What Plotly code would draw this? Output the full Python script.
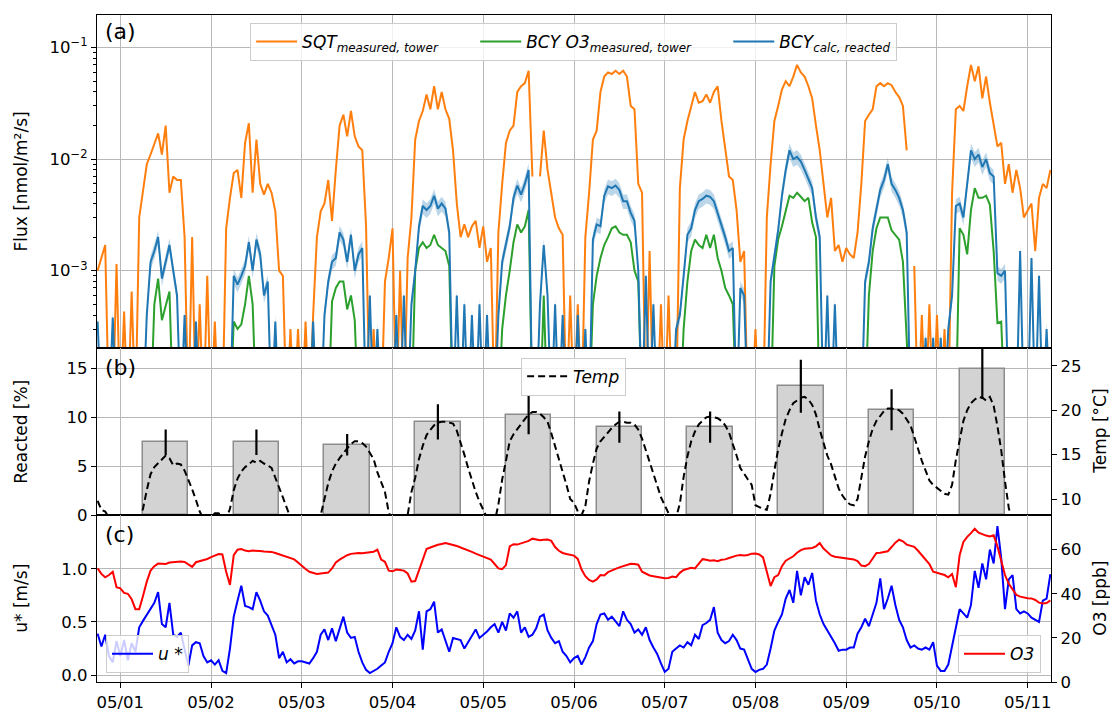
import pandas as pd
import plotly.graph_objects as go

# ---------------- data (hourly, 2019-04-30 18:00 .. 2019-05-11 06:00) ----------------
times = pd.date_range("2019-04-30 18:00", periods=253, freq="h")

# SQT measured flux at tower, in 1e-3 nmol/m2/s (0.05 = below plotted range)
sqt_e3 = [
    1.0, 1.3, 1.7, 0.05, 0.05, 1.15,
    0.05, 0.43, 0.05, 0.65, 0.05, 3.0, 5.3, 9.0, 11, 14, 17, 11, 20, 5.0, 7.0, 6.5, 6.5, 2.0, 0.05, 2.0, 0.05, 0.5, 0.05, 0.9,
    0.05, 0.35, 0.05, 0.05, 2.4, 4.5, 7.5, 8.0, 4.5, 14, 21, 5.0, 15, 6.0, 4.8, 6.0, 5.0, 3.4, 1.0, 0.9, 0.05, 0.3, 0.05, 0.3,
    0.05, 0.35, 0.05, 0.4, 2.0, 3.4, 4.0, 6.5, 2.8, 8.0, 20, 25, 16, 27, 16, 13, 12, 2.5, 0.05, 0.3, 0.05, 0.05, 0.8, 1.3,
    2.4, 0.05, 1.0, 0.05, 1.3, 3.0, 15, 22, 27, 38, 28, 45, 28, 40, 28, 23, 12, 4.0, 2.0, 2.6, 2.0, 2.5, 2.8, 1.6,
    2.5, 1.2, 1.6, 0.05, 2.2, 6.0, 14, 18, 20, 40, 45, 48, 62, 7.0, None, 7.0, 18, 8.0, 5.0, 3.0, 2.4, 2.1, 0.05, 0.6,
    0.05, 0.5, 0.05, 2.0, 5.0, 15, 18, 40, 55, 60, 58, 62, 58, 62, 55, 30, 28, 6.0, 5.0, 0.05, 1.5, 0.05, 0.05, 0.5,
    0.05, 0.6, 0.05, 0.05, 5.5, 15, 22, 30, 40, 32, 33, 38, 32, 40, 45, 22, 13, 7.0, 6.5, 3.5, 1.2, 1.5, 0.05, 0.05,
    0.3, 0.05, 0.05, 3.0, 9.0, 22, 30, 42, 50, 45, 55, 70, 60, 55, 45, 35, 20, 12, 6.0, 3.0, 4.5, 1.5, 1.7, 1.2,
    1.6, 1.4, 1.3, 2.2, 6.0, 22, 25, 28, 45, 48, 45, 48, 46, 40, 36, 30, 12, None, 1.1, 0.05, 0.4, 0.05, 0.5, 0.05,
    0.4, 0.05, 0.3, 0.05, 5.0, 28, 30, 27, 45, 70, 50, 68, 35, 55, 32, 20, 13, 14, 6.0, 9.0, 5.0, 8.0, 5.5, 3.0,
    3.5, 4.0, 1.5, 4.5, 6.0, 5.5, 8.0,
]

# BCY O3 measured at tower, 1e-3 nmol/m2/s
bcy_o3_e3 = [
    0.05, 0.05, 0.05, 0.05, 0.05, 0.05,
    0.05, 0.05, 0.05, 0.05, 0.05, 0.05, 0.05, 0.05, 0.05, 0.5, 0.85, 0.36, 0.5, 0.65, 0.05, 0.05, 0.05, 0.05, 0.05, 0.05, 0.05, 0.05, 0.05, 0.05,
    0.05, 0.05, 0.05, 0.05, 0.05, 0.05, 0.35, 0.3, 0.33, 0.5, 0.9, 0.5, 0.05, 0.05, 0.05, 0.05, 0.05, 0.05, 0.05, 0.05, 0.05, 0.05, 0.05, 0.05,
    0.05, 0.05, 0.05, 0.05, 0.05, 0.05, 0.05, 0.05, 0.53, 0.7, 0.8, 0.8, 0.45, 0.6, 0.36, 0.05, 0.05, 0.05, 0.05, 0.05, 0.05, 0.05, 0.05, 0.05,
    0.05, 0.05, 0.05, 0.05, 0.05, 0.05, 1.0, 1.6, 1.8, 1.6, 1.7, 2.1, 1.7, 1.6, 1.5, 1.1, 0.05, 0.05, 0.05, 0.05, 0.05, 0.05, 0.05, 0.05,
    0.05, 0.05, 0.05, 0.05, 0.05, 0.3, 0.6, 1.0, 1.8, 2.6, 2.2, 2.5, 3.5, 0.05, 0.05, 0.05, 0.6, 0.05, 0.05, 0.05, 0.05, 0.05, 0.05, 0.05,
    0.05, 0.05, 0.05, 0.05, 0.05, 0.5, 0.9, 1.3, 1.7, 2.0, 2.4, 2.5, 2.2, 2.1, 2.1, 1.8, 1.0, 0.8, 0.05, 0.05, 0.05, 0.05, 0.05, 0.05,
    0.05, 0.05, 0.05, 0.05, 0.05, 0.3, 0.8, 1.5, 1.9, 1.7, 1.6, 2.1, 1.6, 2.1, 1.3, 1.0, 0.7, 0.6, 0.5, 0.05, 0.05, 0.05, 0.05, 0.05,
    0.05, 0.05, 0.05, 0.05, 0.05, 1.1, 1.9, 2.5, 3.5, 4.7, 4.5, 5.0, 4.6, 4.2, 4.5, 2.7, 2.0, 0.05, 0.05, 0.05, 0.05, 0.05, 0.05, 0.05,
    0.05, 0.05, 0.05, 0.05, 0.05, 0.05, 0.6, 1.5, 2.4, 3.0, 3.0, 3.0, 2.3, 2.1, 1.9, 1.2, 0.3, 0.05, 0.05, 0.05, 0.05, 0.05, 0.05, 0.05,
    0.05, 0.05, 0.05, 0.05, 0.05, 0.05, 2.4, 2.1, 1.4, 3.5, 5.5, 4.5, 4.5, 4.7, 3.9, 1.5, 0.34, 0.35, 0.05, 0.05, 0.05, 0.05, 0.05, 0.05,
    0.05, 0.05, 0.05, 0.05, 0.05, 0.05, 0.05,
]

# BCY calculated, reacted, 1e-3 nmol/m2/s
bcy_calc_e3 = [
    0.35, 0.05, 0.05, 0.05, 0.38, 0.05,
    0.05, 0.05, 0.05, 0.05, 0.05, 0.05, 0.05, 0.4, 1.2, 1.5, 2.0, 0.85, 1.2, 1.7, 1.0, 0.6, 0.05, 0.4, 0.05, 0.05, 0.35, 0.05, 0.05, 0.05,
    0.05, 0.05, 0.05, 0.05, 0.05, 0.05, 0.9, 0.75, 0.9, 1.1, 1.8, 1.0, 1.9, 1.4, 0.6, 0.8, 0.05, 0.35, 0.05, 0.05, 0.05, 0.05, 0.05, 0.05,
    0.05, 0.05, 0.05, 0.35, 0.05, 0.05, 0.4, 0.8, 1.2, 1.3, 2.2, 1.9, 1.2, 2.1, 1.0, 1.4, 1.6, 0.05, 0.6, 0.05, 0.3, 0.05, 0.05, 0.05,
    0.05, 0.4, 0.05, 0.6, 0.05, 0.5, 1.0, 2.5, 3.8, 3.5, 3.8, 4.7, 3.6, 4.0, 3.6, 2.2, 0.05, 0.6, 0.05, 0.5, 0.05, 0.4, 0.05, 0.5,
    0.05, 0.4, 0.05, 0.05, 0.4, 1.2, 1.7, 2.5, 4.5, 5.8, 4.8, 6.0, 8.0, 0.05, 0.05, 0.5, 1.7, 0.6, 0.05, 0.5, 0.05, 0.4, 0.05, 0.05,
    0.05, 0.4, 0.05, 0.3, 0.05, 1.9, 2.6, 2.5, 4.7, 5.7, 5.5, 5.8, 5.3, 4.2, 4.2, 3.3, 2.8, 1.0, 0.05, 0.9, 0.05, 0.5, 0.05, 0.05,
    0.05, 0.05, 0.05, 0.3, 0.4, 0.9, 2.1, 2.4, 3.5, 4.2, 4.4, 4.7, 4.6, 4.2, 3.3, 2.6, 2.0, 1.5, 1.6, 0.05, 0.7, 0.6, 0.05, 0.05,
    0.05, 0.05, 0.05, 0.05, 0.8, 1.4, 2.3, 4.7, 8.0, 12, 10, 10.5, 9.5, 8.0, 6.5, 5.5, 3.0, 2.0, 0.05, 0.6, 0.05, 0.5, 0.05, 0.05,
    0.05, 0.05, 0.05, 0.05, 0.05, 0.8, 1.2, 2.4, 3.5, 5.3, 6.5, 9.0, 6.0, 5.3, 4.5, 3.5, 2.2, 0.05, 0.05, 0.05, 0.05, 0.25, 0.05, 0.25,
    0.05, 0.25, 0.05, 0.3, 0.6, 3.8, 4.0, 3.0, 6.0, 12, 10, 11, 8.5, 10, 7.5, 7.0, 0.95, 0.9, 1.0, 0.05, 0.05, 0.05, 1.5, 0.05,
    0.05, 1.3, 0.05, 0.9, 0.05, 0.3, 0.05,
]
bcy_calc_rel_unc = 0.15   # relative width of the shaded uncertainty band

# daily reacted fraction (bars at noon) and its error
bar_days = ["05/01", "05/02", "05/03", "05/04", "05/05", "05/06", "05/07", "05/08", "05/09", "05/10"]
reacted_pct = [7.47, 7.47, 7.23, 9.57, 10.3, 9.03, 9.03, 13.2, 10.8, 15.0]
reacted_err = [1.3, 1.3, 1.1, 1.8, 2.0, 1.6, 1.6, 2.7, 2.1, 3.1]

# temperature (deg C)
temp_c = [
    9.8, 8.8, 8.6, 7.9, 7.6, 7.4,
    7.3, 7.2, 7.1, 7.0, 7.0, 7.6, 8.9, 11.0, 12.8, 13.6, 14.0, 14.5, 14.9, 14.6, 13.8, 14.0, 13.9, 13.2, 12.2, 11.1, 9.9, 8.6, 7.8, 7.6,
    7.9, 8.4, 8.4, 7.9, 7.8, 8.9, 11.0, 12.3, 13.1, 13.6, 13.9, 14.3, 14.1, 14.3, 14.0, 13.8, 13.5, 12.5, 11.3, 10.2, 9.1, 7.9, 7.5, 7.3,
    7.2, 7.0, 6.9, 6.8, 7.3, 8.2, 10.0, 11.8, 13.1, 14.0, 14.6, 15.2, 15.7, 16.2, 16.5, 16.5, 16.3, 15.9, 15.2, 14.5, 13.0, 11.8, 10.8, 8.5,
    7.5, 7.3, 7.1, 7.0, 8.2, 10.8, 12.4, 14.5, 16.0, 17.2, 17.8, 18.3, 18.6, 18.7, 18.7, 18.6, 18.5, 17.7, 16.4, 15.0, 13.5, 12.0, 10.8, 9.7,
    8.8, 7.9, 7.4, 7.4, 9.4, 12.2, 14.3, 16.5, 17.3, 17.9, 18.5, 19.0, 19.5, 19.8, 19.8, 19.6, 19.2, 18.7, 17.4, 16.0, 14.6, 13.2, 11.6, 10.0,
    9.6, 8.6, 8.2, 9.2, 12.0, 14.0, 15.7, 16.5, 17.0, 17.6, 18.0, 18.4, 18.7, 18.7, 18.6, 18.6, 18.4, 17.8, 16.8, 15.5, 14.2, 12.9, 11.5, 10.2,
    9.3, 8.4, 8.0, 7.9, 9.5, 12.5, 14.8, 16.5, 17.6, 18.4, 18.8, 19.2, 19.3, 19.2, 19.1, 18.8, 18.3, 17.5, 16.3, 14.9, 13.5, 12.8, 12.2, 11.6,
    9.3, 9.1, 8.9, 8.8, 10.6, 13.2, 15.6, 17.4, 19.0, 20.0, 20.8, 21.1, 21.4, 21.5, 21.2, 20.6, 19.5, 17.8, 16.2, 14.9, 13.9, 12.6, 11.2, 10.4,
    9.8, 9.4, 9.3, 10.0, 12.6, 14.8, 16.5, 17.9, 18.8, 19.4, 19.9, 20.2, 20.2, 20.1, 20.0, 19.6, 19.0, 18.3, 17.0, 15.6, 14.3, 13.2, 12.1, 11.6,
    11.3, 11.0, 10.6, 10.5, 11.6, 14.4, 16.8, 18.8, 20.0, 20.8, 21.2, 21.5, 21.4, 21.1, 21.5, 20.5, 18.2, 15.5, 12.0, 9.0, 7.4, 7.0, 6.8, 6.6,
    6.5, 6.4, 6.3, 6.2, 6.1, 6.0, 6.0,
]

# friction velocity u* (m/s)
ustar = [
    0.39, 0.27, 0.38, 0.18, 0.12, 0.32,
    0.18, 0.33, 0.14, 0.30, 0.22, 0.45, 0.51, 0.57, 0.63, 0.68, 0.78, 0.48, 0.45, 0.68, 0.38, 0.36, 0.40, 0.25, 0.09, 0.28, 0.31, 0.30, 0.18, 0.12,
    0.14, 0.10, 0.14, 0.04, 0.02, 0.25, 0.55, 0.70, 0.84, 0.65, 0.64, 0.62, 0.78, 0.70, 0.60, 0.56, 0.46, 0.38, 0.16, 0.22, 0.12, 0.15, 0.11, 0.13,
    0.13, 0.12, 0.11, 0.16, 0.22, 0.38, 0.43, 0.33, 0.44, 0.32, 0.44, 0.55, 0.40, 0.35, 0.36, 0.22, 0.12, 0.05, 0.02, 0.04, 0.06, 0.09, 0.12, 0.22,
    0.30, 0.45, 0.36, 0.33, 0.38, 0.34, 0.42, 0.60, 0.24, 0.60, 0.62, 0.69, 0.40, 0.43, 0.33, 0.22, 0.35, 0.34, 0.33, 0.25, 0.31, 0.38, 0.43, 0.35,
    0.38, 0.41, 0.45, 0.48, 0.40, 0.50, 0.42, 0.58, 0.54, 0.60, 0.40, 0.45, 0.36, 0.38, 0.44, 0.55, 0.57, 0.42, 0.35, 0.30, 0.32, 0.22, 0.18, 0.12,
    0.16, 0.18, 0.10, 0.17, 0.26, 0.32, 0.48, 0.57, 0.58, 0.52, 0.55, 0.50, 0.46, 0.60, 0.52, 0.48, 0.40, 0.43, 0.38, 0.45, 0.33, 0.26, 0.20, 0.11,
    0.03, 0.06, 0.22, 0.25, 0.28, 0.26, 0.31, 0.28, 0.38, 0.34, 0.47, 0.49, 0.52, 0.64, 0.40, 0.33, 0.30, 0.32, 0.38, 0.33, 0.25, 0.24, 0.15, 0.06,
    0.03, 0.05, 0.06, 0.10, 0.25, 0.42, 0.50, 0.57, 0.72, 0.80, 0.68, 0.98, 0.75, 0.92, 0.85, 0.96, 0.70, 0.57, 0.48, 0.42, 0.37, 0.30, 0.23, 0.24,
    0.24, 0.26, 0.26, 0.39, 0.45, 0.53, 0.46, 0.57, 0.68, 0.91, 0.62, 0.72, 0.84, 0.66, 0.52, 0.45, 0.33, 0.26, 0.28, 0.25, 0.24, 0.26, 0.24, 0.31,
    0.09, 0.04, 0.04, 0.10, 0.28, 0.44, 0.62, 0.58, 0.54, 0.66, 0.98, 0.82, 1.05, 0.90, 1.18, 1.05, 1.40, 1.10, 0.62, 0.90, 0.94, 0.62, 0.58, 0.60,
    0.58, 0.54, 0.52, 0.50, 0.70, 0.72, 0.95,
]

# ozone (ppb)
o3_ppb = [
    51.5, 49.0, 47.5, 48.5, 50.0, 43.0,
    42.5, 40.4, 40.0, 37.5, 33.0, 33.0, 39.0, 45.5, 50.5, 52.5, 53.7, 53.5, 53.5, 54.2, 54.4, 54.4, 54.6, 54.4, 53.4, 52.2, 54.3, 54.8, 55.1, 55.8,
    56.6, 57.3, 58.0, 57.8, 50.0, 44.0, 57.5, 60.0, 60.3, 59.6, 59.3, 59.6, 59.6, 59.4, 59.2, 59.2, 59.0, 58.5, 57.9, 57.4, 56.8, 56.2, 55.6, 54.2,
    52.5, 51.2, 50.0, 49.4, 49.0, 49.2, 49.3, 49.6, 51.5, 54.2, 55.5, 56.6, 57.5, 58.1, 58.4, 58.5, 58.4, 58.6, 58.8, 59.1, 60.0, 55.5, 54.5, 50.5,
    50.2, 51.0, 50.8, 50.5, 49.2, 45.5, 45.8, 50.5, 56.0, 60.3, 61.0, 61.7, 62.2, 62.6, 63.0, 62.6, 62.2, 61.7, 61.0, 60.4, 59.6, 59.0, 58.2, 57.6,
    57.0, 56.4, 55.5, 53.5, 51.5, 51.2, 53.0, 61.5, 62.5, 62.3, 62.8, 63.3, 64.0, 65.0, 64.6, 64.3, 64.5, 64.6, 64.0, 61.2, 59.5, 58.5, 58.0, 57.6,
    57.3, 55.8, 51.0, 48.0, 46.3, 45.5, 46.5, 48.5, 48.3, 49.8, 50.7, 51.3, 52.0, 52.5, 53.0, 53.6, 53.5, 53.2, 50.0, 49.0, 48.3, 48.0, 47.7, 47.3,
    47.0, 47.2, 47.8, 47.5, 49.5, 50.8, 51.3, 51.8, 51.5, 53.5, 55.7, 55.4, 55.0, 55.2, 54.8, 55.4, 55.6, 56.2, 56.8, 57.3, 57.6, 57.4, 57.6, 58.2,
    58.3, 57.8, 56.5, 50.5, 43.5, 47.5, 48.5, 52.5, 55.0, 56.0, 57.0, 58.6, 59.8, 60.4, 60.6, 60.8, 61.5, 63.0, 60.5, 59.0, 57.4, 56.8, 56.6, 56.4,
    56.2, 55.8, 55.6, 54.8, 52.8, 52.5, 53.5, 56.0, 58.5, 58.6, 59.0, 59.3, 61.2, 63.2, 64.5, 63.8, 62.3, 61.8, 61.3, 59.5, 57.5, 55.8, 53.5, 50.0,
    49.5, 49.0, 48.5, 47.5, 49.0, 43.0, 57.5, 63.5, 65.8, 67.5, 69.5, 67.7, 67.0, 66.4, 66.0, 66.5, 61.5, 54.5, 48.5, 44.5, 41.8, 39.5, 38.7, 38.3,
    38.0, 37.9, 37.2, 36.0, 35.6, 35.8, 37.0,
]

for s in (sqt_e3, bcy_o3_e3, bcy_calc_e3, temp_c, ustar, o3_ppb):
    assert len(s) == len(times), len(s)

# ---------------- helpers ----------------
def e3(vals):
    return [None if v is None else v * 1e-3 for v in vals]

sqt = e3(sqt_e3)
bcy_o3 = e3(bcy_o3_e3)
bcy_calc = e3(bcy_calc_e3)
bcy_hi = [v * (1 + bcy_calc_rel_unc) for v in bcy_calc]
bcy_lo = [v * (1 - bcy_calc_rel_unc) for v in bcy_calc]
bar_times = pd.to_datetime(["2019-" + d.replace("/", "-") + " 12:00" for d in bar_days])

W, H = 1110, 724
ML, MR, MT, MB = 97, 59, 15, 28
PH = H - MT - MB


def py(ypx):
    return (H - MB - ypx) / PH


def px(xpx):
    return (xpx - ML) / (W - ML - MR)


FONT = "DejaVu Sans"
ORANGE, GREEN, BLUE = "#ff7f0e", "#2ca02c", "#1f77b4"
PAD = "\u00a0" * 6

fig = go.Figure()

# ---- panel (a)
fig.add_trace(go.Scatter(x=times, y=sqt, mode="lines", line=dict(color=ORANGE, width=2),
                         name="<i>SQT</i><sub><i>measured, tower</i></sub>" + PAD, legend="legend",
                         xaxis="x", yaxis="y"))
fig.add_trace(go.Scatter(x=times, y=bcy_o3, mode="lines", line=dict(color=GREEN, width=2),
                         name="<i>BCY O3</i><sub><i>measured, tower</i></sub>" + PAD, legend="legend",
                         xaxis="x", yaxis="y"))
fig.add_trace(go.Scatter(x=times, y=bcy_lo, mode="lines", line=dict(width=0, color=BLUE),
                         showlegend=False, xaxis="x", yaxis="y", hoverinfo="skip"))
fig.add_trace(go.Scatter(x=times, y=bcy_hi, mode="lines", line=dict(width=0, color=BLUE),
                         fill="tonexty", fillcolor="rgba(31,119,180,0.3)",
                         showlegend=False, xaxis="x", yaxis="y", hoverinfo="skip"))
fig.add_trace(go.Scatter(x=times, y=bcy_calc, mode="lines", line=dict(color=BLUE, width=2),
                         name="<i>BCY</i><sub><i>calc, reacted</i></sub>", legend="legend",
                         xaxis="x", yaxis="y"))

# ---- panel (b)
fig.add_trace(go.Bar(x=bar_times, y=reacted_pct, width=12 * 3600 * 1000,
                     marker=dict(color="#d3d3d3", line=dict(color="#8c8c8c", width=1.5)),
                     error_y=dict(type="data", array=reacted_err, color="black", thickness=2.2, width=0),
                     showlegend=False, xaxis="x2", yaxis="y2"))
fig.add_trace(go.Scatter(x=times, y=temp_c, mode="lines",
                         line=dict(color="black", width=2, dash="7px,4px"),
                         name="<i>Temp</i>", legend="legend2", xaxis="x2", yaxis="y3"))

# ---- panel (c)
fig.add_trace(go.Scatter(x=times, y=ustar, mode="lines", line=dict(color="#0000ff", width=2),
                         name="<i>u</i> *", legend="legend3", xaxis="x3", yaxis="y4"))
fig.add_trace(go.Scatter(x=times, y=o3_ppb, mode="lines", line=dict(color="#ff0000", width=2),
                         name="<i>O3</i>", legend="legend4", xaxis="x3", yaxis="y5"))

axis_common = dict(showline=True, linecolor="black", linewidth=1.2, mirror=True,
                   ticks="outside", ticklen=5, tickwidth=1.2, tickcolor="black",
                   gridcolor="#b8b8b8", gridwidth=1, zeroline=False,
                   tickfont=dict(family=FONT, size=16.5, color="black"))
xr = ["2019-04-30 17:50", "2019-05-11 06:10"]
x_common = dict(axis_common, type="date", range=xr, dtick=86400000, tick0="2019-05-01",
                tickformat="%m/%d", showgrid=True)

dom_c = [0, py(526)]
dom_b = [py(526), py(355)]
dom_a = [py(355), 1]

minor_vals = [m * 10.0 ** e for e in (-4, -3, -2, -1) for m in range(2, 10)]

fig.update_layout(
    width=W, height=H, margin=dict(l=ML, r=MR, t=MT, b=MB),
    paper_bgcolor="white", plot_bgcolor="white",
    font=dict(family=FONT, size=17, color="black"),
    bargap=0,
    xaxis=dict(x_common, anchor="y", domain=[0, 1], showticklabels=False, ticks="", matches="x3"),
    xaxis2=dict(x_common, anchor="y2", domain=[0, 1], showticklabels=False, ticks="", matches="x3"),
    xaxis3=dict(x_common, anchor="y4", domain=[0, 1]),
    yaxis=dict(axis_common, type="log", domain=dom_a, anchor="x", range=[-3.693, -0.708],
               tickvals=[1e-3, 1e-2, 1e-1],
               ticktext=["10<sup>\u22123</sup>", "10<sup>\u22122</sup>", "10<sup>\u22121</sup>"],
               minor=dict(tickvals=minor_vals, ticks="outside", ticklen=3, tickwidth=1,
                          tickcolor="black", showgrid=False)),
    yaxis2=dict(axis_common, domain=dom_b, anchor="x2", range=[0, 17.1], tickvals=[0, 5, 10, 15]),
    yaxis3=dict(axis_common, overlaying="y2", side="right", anchor="x2", range=[8.15, 27.0],
                tickvals=[10, 15, 20, 25], showgrid=False, mirror=False),
    yaxis4=dict(axis_common, domain=dom_c, anchor="x3", range=[-0.064, 1.50],
                tickvals=[0, 0.5, 1.0], tickformat=".1f"),
    yaxis5=dict(axis_common, overlaying="y4", side="right", anchor="x3", range=[0, 75.5],
                tickvals=[0, 20, 40, 60], showgrid=False, mirror=False),
)

leg_common = dict(bgcolor="rgba(255,255,255,0.8)", bordercolor="#cccccc", borderwidth=1,
                  font=dict(family=FONT, size=17, color="black"), itemwidth=41,
                  traceorder="normal")
fig.update_layout(
    legend=dict(leg_common, orientation="h", x=0.4996, xanchor="center", y=py(23), yanchor="top"),
    legend2=dict(leg_common, orientation="h", x=0.4996, xanchor="center", y=py(365), yanchor="top"),
    legend3=dict(leg_common, x=px(106), xanchor="left", y=py(687), yanchor="bottom"),
    legend4=dict(leg_common, x=px(1041), xanchor="right", y=py(687), yanchor="bottom"),
)

ann = []
for text, yc in [("Flux [nmol/m\u00b2/s]", (15 + 355) / 2), ("Reacted [%]", (355 + 526) / 2),
                 ("u* [m/s]", (526 + 696) / 2)]:
    ann.append(dict(text=text, xref="paper", yref="paper", x=px(21), y=py(yc), textangle=-90,
                    showarrow=False, xanchor="center", yanchor="middle",
                    font=dict(family=FONT, size=17)))
for text, yc in [("Temp [\u00b0C]", (355 + 526) / 2), ("O3 [ppb]", (526 + 696) / 2)]:
    ann.append(dict(text=text, xref="paper", yref="paper", x=px(1100), y=py(yc), textangle=-90,
                    showarrow=False, xanchor="center", yanchor="middle",
                    font=dict(family=FONT, size=17)))
for text, yc in [("(a)", 32), ("(b)", 375), ("(c)", 545)]:
    ann.append(dict(text=text, xref="paper", yref="paper", x=px(103), y=py(yc),
                    showarrow=False, xanchor="left", yanchor="middle",
                    font=dict(family=FONT, size=22)))
fig.update_layout(annotations=ann)

fig.write_html("out.html")
